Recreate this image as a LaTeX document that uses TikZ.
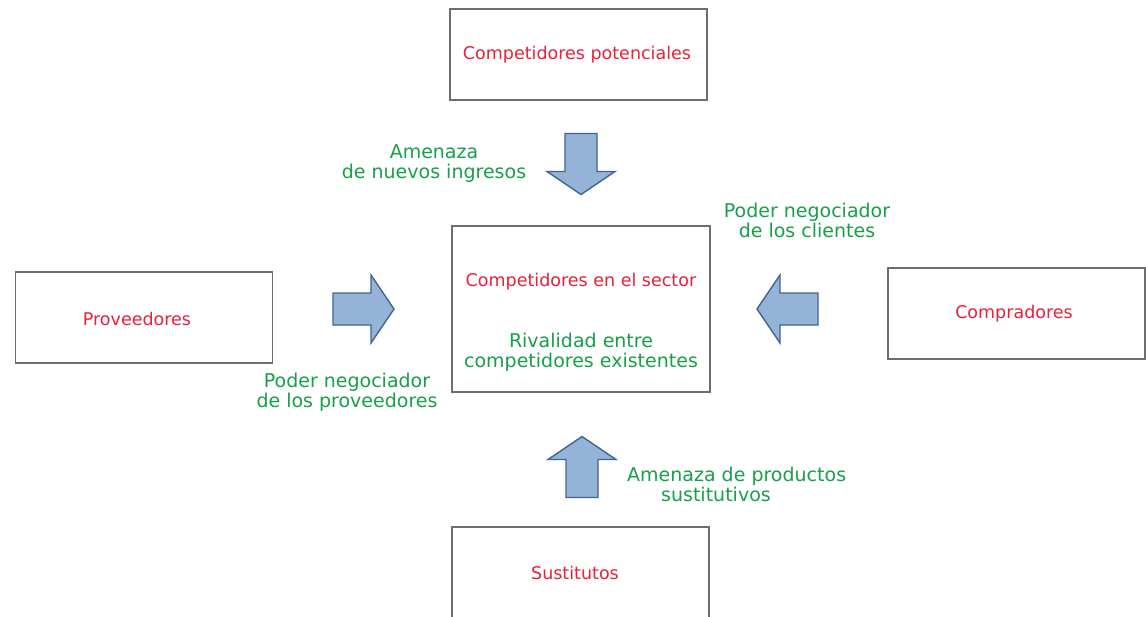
\documentclass[tikz,border=0pt]{standalone}
\usepackage{fontspec}
\setmainfont{DejaVu Sans}
\usepackage{xcolor}
\definecolor{forcered}{HTML}{E8203A}
\definecolor{forcegreen}{HTML}{17A04A}
\definecolor{arrowfill}{HTML}{95B3D7}
\definecolor{arrowline}{HTML}{3F6590}
\definecolor{boxline}{HTML}{6E6E6E}
\usetikzlibrary{positioning}

\begin{document}
\begin{tikzpicture}[x=1pt, y=-1pt,
  forcebox/.style={draw=boxline, line width=1.1pt, minimum width=257pt, minimum height=91pt,
    text=forcered, font=\fontsize{17.5}{21}\selectfont},
  forcename/.style={text=forcered, font=\fontsize{17.5}{21}\selectfont, inner sep=0pt},
  forcelabel/.style={text=forcegreen, align=center, font=\fontsize{19}{20}\selectfont, inner sep=0pt}
]
  \clip (0,0) rectangle (1146,616);
  \fill[white] (0,0) rectangle (1146,616);

  % block arrow pointing right, centred at (#1,#2), turned by #3
  \def\blockarrow#1#2#3{%
    \filldraw[fill=arrowfill, draw=arrowline, line width=1.4pt, line join=miter,
      shift={(#1,#2)}, rotate=#3]
      (-30.5,-16) -- (7.5,-16) -- (7.5,-34) -- (30.5,0) -- (7.5,34) -- (7.5,16) -- (-30.5,16) -- cycle;
  }

  % the five forces
  \node[forcebox] (potenciales) at (578.5,54.5) {};
  \node[forcename] (potencialestext) at (577,55) {Competidores potenciales};
  \node[forcebox, minimum width=258pt, minimum height=166pt] (sector) at (581,309) {};
  \node[forcename] (sectortext) at (581,282) {Competidores en el sector};
  \node[forcebox] (proveedores) at (144,317.5) {};
  \node[forcename] (proveedorestext) at (137,319) {Proveedores};
  \node[forcebox] (compradores) at (1016.5,313.5) {};
  \node[forcename] (compradorestext) at (1014,314) {Compradores};
  \node[forcebox, minimum height=110pt] (sustitutos) at (580.5,582) {};
  \node[forcename] (sustitutostext) at (575,573) {Sustitutos};

  % arrows
  \blockarrow{581}{164}{-90}
  \blockarrow{363.5}{309}{0}
  \blockarrow{787.5}{309}{180}
  \blockarrow{582}{467}{90}

  % labels
  \node[forcelabel] (nuevos) at (434,164) {Amenaza\\de nuevos ingresos};
  \node[forcelabel] (clientes) at (807,220) {Poder negociador\\de los clientes};
  \node[forcelabel] (proveedoreslabel) at (347,392) {Poder negociador\\de los proveedores};
  \node[forcelabel] (rivalidad) at (581,352) {Rivalidad entre\\competidores existentes};
  \node[forcelabel, align=left, anchor=west] (sustitutivos) at (627,484)
    {Amenaza de productos\\\hspace*{34pt}sustitutivos};
\end{tikzpicture}
\end{document}
